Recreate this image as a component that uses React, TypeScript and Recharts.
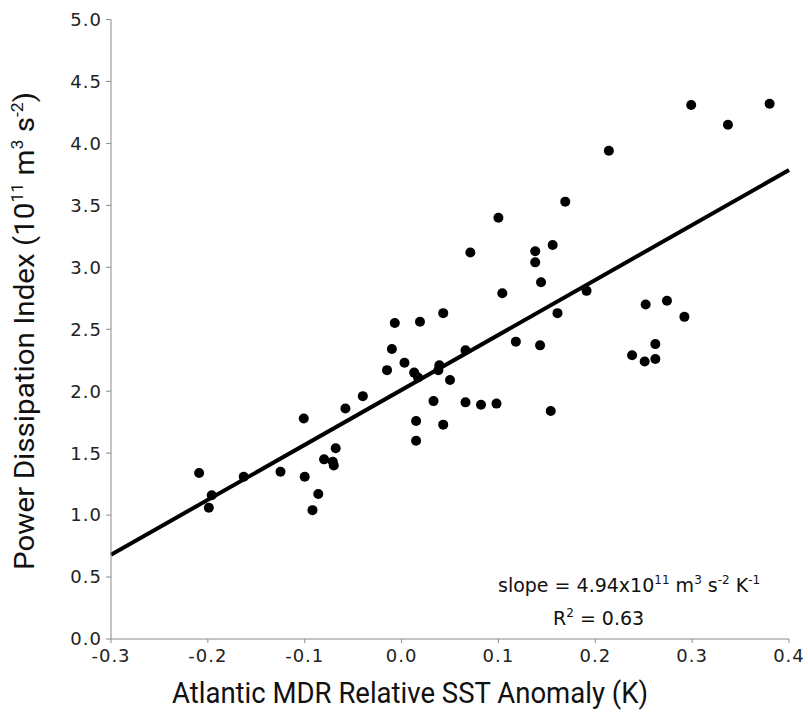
import React from 'react';
import { ScatterChart, Scatter, XAxis, YAxis, ReferenceLine } from 'recharts';

const sstAnomaly = [
  -0.209, -0.196, -0.199, -0.163, -0.125, -0.101, -0.100, -0.092, -0.086, -0.080,
  -0.071, -0.070, -0.068, -0.058, -0.040, -0.015, -0.010, -0.007, 0.003, 0.013,
  0.017, 0.019, 0.015, 0.015, 0.033, 0.039, 0.038, 0.043, 0.043, 0.050,
  0.066, 0.066, 0.071, 0.082, 0.098, 0.100, 0.104, 0.118, 0.138, 0.138,
  0.143, 0.144, 0.156, 0.154, 0.161, 0.169, 0.191, 0.214, 0.238, 0.252,
  0.251, 0.262, 0.262, 0.274, 0.292, 0.299, 0.337, 0.380,
];
const pdi = [
  1.34, 1.16, 1.06, 1.31, 1.35, 1.78, 1.31, 1.04, 1.17, 1.45,
  1.43, 1.40, 1.54, 1.86, 1.96, 2.17, 2.34, 2.55, 2.23, 2.15,
  2.11, 2.56, 1.76, 1.60, 1.92, 2.21, 2.17, 2.63, 1.73, 2.09,
  2.33, 1.91, 3.12, 1.89, 1.90, 3.40, 2.79, 2.40, 3.13, 3.04,
  2.37, 2.88, 3.18, 1.84, 2.63, 3.53, 2.81, 3.94, 2.29, 2.70,
  2.24, 2.38, 2.26, 2.73, 2.60, 4.31, 4.15, 4.32,
];
const fitX = [-0.3, 0.4];
const fitY = [0.68, 3.785];
const xTicks = [-0.3, -0.2, -0.1, 0.0, 0.1, 0.2, 0.3, 0.4];
const yTicks = [0, 0.5, 1, 1.5, 2, 2.5, 3, 3.5, 4, 4.5, 5];

const points = sstAnomaly.map((x, i) => ({ x, y: pdi[i] }));
const fitSegment = fitX.map((x, i) => ({ x, y: fitY[i] }));

const AXIS = '#8a8a8a';
const TICK_FONT = { fontFamily: 'DejaVu Sans', fontSize: 18, fill: '#222', letterSpacing: 1 };
const TITLE_FONT = 'Roboto, "Liberation Sans", sans-serif';
const NOTE_FONT = 'DejaVu Sans';

const Dot = (props: any) => <circle cx={props.cx} cy={props.cy} r={5} fill="#000" />;

const XTitle = (props: any) => {
  return (
    <text
      x={172}
      y={703}
      textAnchor="start"
      textLength={476}
      lengthAdjust="spacingAndGlyphs"
      fontFamily={TITLE_FONT}
      fontSize={29}
      fill="#111"
    >
      Atlantic MDR Relative SST Anomaly (K)
    </text>
  );
};

const YTitle = (props: any) => {
  return (
    <text
      x={0}
      y={0}
      transform="translate(34,570) rotate(-90)"
      textAnchor="start"
      textLength={478}
      lengthAdjust="spacingAndGlyphs"
      fontFamily={TITLE_FONT}
      fontSize={27}
      fill="#111"
    >
      Power Dissipation Index (10
      <tspan fontSize={16} dy={-11}>11</tspan>
      <tspan dy={11}> m</tspan>
      <tspan fontSize={16} dy={-11}>3</tspan>
      <tspan dy={11}> s</tspan>
      <tspan fontSize={16} dy={-11}>-2</tspan>
      <tspan dy={11}>)</tspan>
    </text>
  );
};

export default function App() {
  return (
    <div style={{ position: 'absolute', left: 0, top: 0, width: 808, height: 713, background: '#fff' }}>
      <ScatterChart width={808} height={713} margin={{ top: 19.5, right: 19, bottom: 0, left: 0 }}>
        <XAxis
          xAxisId="b"
          type="number"
          dataKey="x"
          domain={[-0.3, 0.4]}
          ticks={xTicks}
          allowDataOverflow
          tickFormatter={(v: number) => v.toFixed(1)}
          height={74}
          stroke={AXIS}
          tickSize={4}
          tickMargin={6}
          tick={TICK_FONT}
          tickLine={{ stroke: AXIS }}
          label={<XTitle />}
        />
        <XAxis
          xAxisId="t"
          orientation="top"
          type="number"
          dataKey="x"
          domain={[-0.3, 0.4]}
          ticks={xTicks}
          allowDataOverflow
          tickFormatter={() => ''}
          height={0}
          stroke={AXIS}
          tickSize={4}
          tickLine={{ stroke: AXIS }}
        />
        <YAxis
          yAxisId="l"
          type="number"
          dataKey="y"
          domain={[0, 5]}
          ticks={yTicks}
          allowDataOverflow
          tickFormatter={(v: number) => v.toFixed(1)}
          width={111}
          stroke={AXIS}
          tickSize={5}
          tickMargin={4}
          tick={TICK_FONT}
          tickLine={{ stroke: AXIS }}
          label={<YTitle />}
        />
        <YAxis
          yAxisId="r"
          orientation="right"
          type="number"
          dataKey="y"
          domain={[0, 5]}
          ticks={yTicks}
          allowDataOverflow
          tickFormatter={() => ''}
          width={0}
          stroke={AXIS}
          tickSize={4}
          tickLine={{ stroke: AXIS }}
        />
        <ReferenceLine
          xAxisId="b"
          yAxisId="l"
          segment={fitSegment}
          stroke="#000"
          strokeWidth={4}
          ifOverflow="visible"
        />
        <Scatter
          xAxisId="b"
          yAxisId="l"
          data={points}
          fill="#000"
          shape={<Dot />}
          isAnimationActive={false}
        />
      </ScatterChart>
      <svg
        width={808}
        height={713}
        style={{ position: 'absolute', left: 0, top: 0, pointerEvents: 'none' }}
      >
        <text x={498} y={592} fontFamily={NOTE_FONT} fontSize={19} fill="#111">
          slope = 4.94x10
          <tspan fontSize={12} dy={-8}>11</tspan>
          <tspan dy={8}> m</tspan>
          <tspan fontSize={12} dy={-8}>3</tspan>
          <tspan dy={8}> s</tspan>
          <tspan fontSize={12} dy={-8}>-2</tspan>
          <tspan dy={8}> K</tspan>
          <tspan fontSize={12} dy={-8}>-1</tspan>
        </text>
        <text x={553} y={625} fontFamily={NOTE_FONT} fontSize={19} fill="#111">
          R
          <tspan fontSize={12} dy={-8}>2</tspan>
          <tspan dy={8}> = 0.63</tspan>
        </text>
      </svg>
    </div>
  );
}
